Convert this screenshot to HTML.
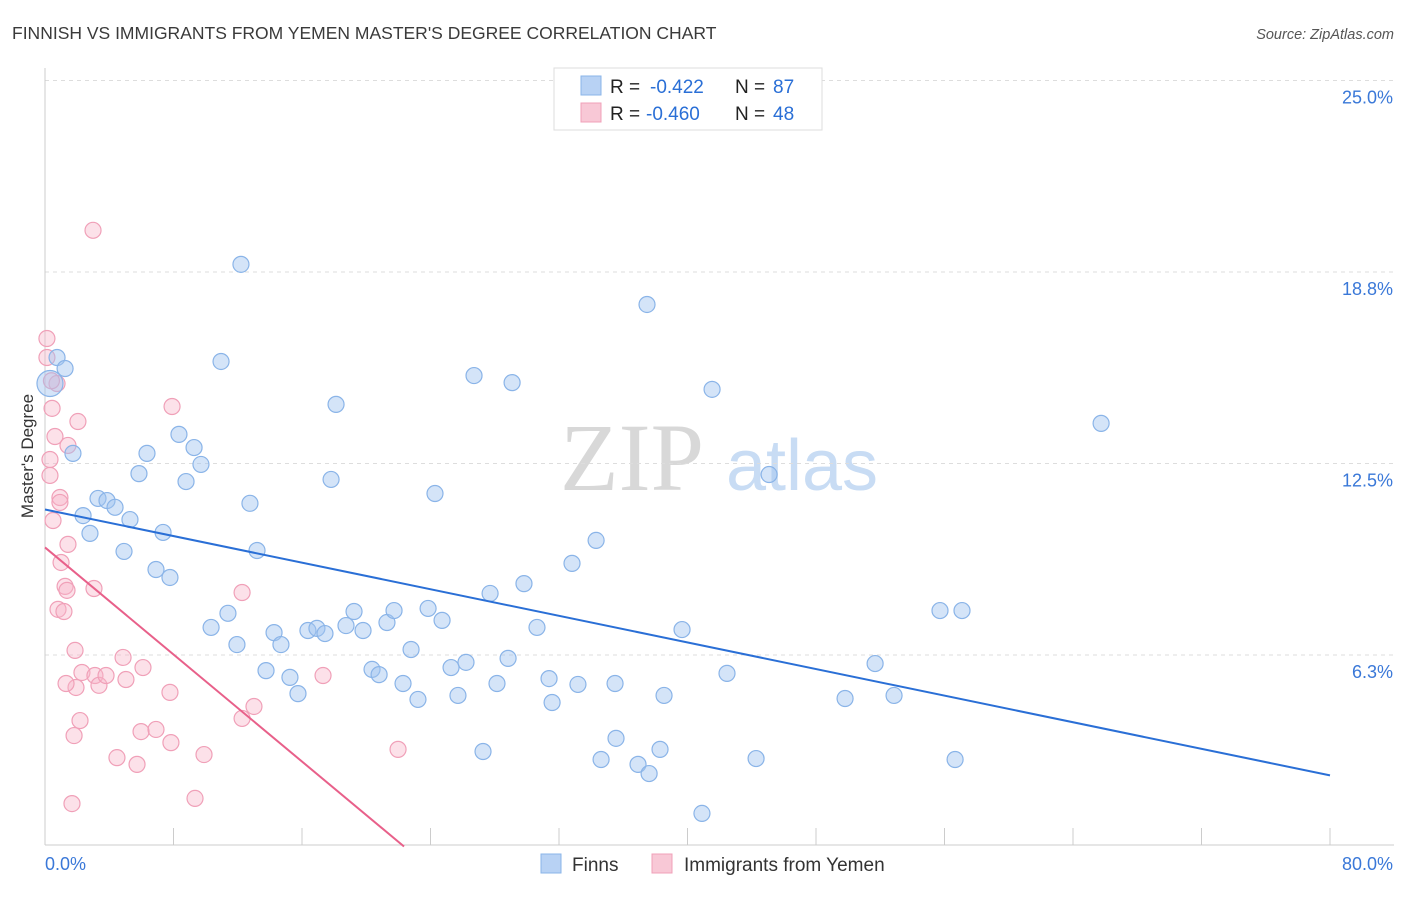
<!DOCTYPE html>
<html><head><meta charset="utf-8"><style>
body{margin:0;background:#fff;font-family:"Liberation Sans",sans-serif}
svg text{font-family:"Liberation Sans",sans-serif}
</style></head><body>
<svg id="chart" width="1406" height="892" viewBox="0 0 1406 892" xmlns="http://www.w3.org/2000/svg">
<text x="12" y="39" font-size="17.5" fill="#3a3a3a">FINNISH VS IMMIGRANTS FROM YEMEN MASTER'S DEGREE CORRELATION CHART</text>
<text x="1394" y="39" font-size="14.5" fill="#555" font-style="italic" text-anchor="end">Source: ZipAtlas.com</text>
<g>
<text x="632" y="490" font-size="96" fill="#d8d8d8" font-family="Liberation Serif" text-anchor="middle" style="font-family:'Liberation Serif',serif">ZIP</text>
<text x="802" y="490" font-size="72" fill="#c8dcf4" text-anchor="middle">atlas</text>
</g>
<g id="grid"></g>
<g id="axes"></g>
<g id="marks"></g>
<text transform="translate(33,456) rotate(-90)" font-size="17" fill="#333" text-anchor="middle">Master's Degree</text>
<g>
<rect x="554" y="68" width="268" height="62" fill="#fff" stroke="#ddd"/>
<rect x="581" y="76" width="20" height="19" fill="#b8d2f4" stroke="#8ab4e8"/>
<text x="610" y="93" font-size="19" fill="#222">R = </text><text x="650" y="93" font-size="19" fill="#2a6fd6">-0.422</text>
<text x="735" y="93" font-size="19" fill="#222">N = </text><text x="773" y="93" font-size="19" fill="#2a6fd6">87</text>
<rect x="581" y="103" width="20" height="19" fill="#f8c8d6" stroke="#f0a0b8"/>
<text x="610" y="120" font-size="19" fill="#222">R = </text><text x="646" y="120" font-size="19" fill="#2a6fd6">-0.460</text>
<text x="735" y="120" font-size="19" fill="#222">N = </text><text x="773" y="120" font-size="19" fill="#2a6fd6">48</text>
</g>
<g>
<rect x="541" y="854" width="20" height="19" fill="#b8d2f4" stroke="#8ab4e8"/>
<text x="572" y="871" font-size="19" fill="#333">Finns</text>
<rect x="652" y="854" width="20" height="19" fill="#f8c8d6" stroke="#f0a0b8"/>
<text x="684" y="871" font-size="19" fill="#333">Immigrants from Yemen</text>
</g>
</svg>
<script>
const yTicks=[6.25,12.5,18.75,25];
const yTickLabels=["6.3%","12.5%","18.8%","25.0%"];
const xTickCount=10;
const finnsX=[0.75,1.25,0.31,1.74,2.37,2.80,3.30,3.86,4.36,5.29,4.92,5.85,6.35,6.91,7.35,7.78,8.34,8.78,9.28,9.71,10.96,12.20,12.76,13.20,10.34,11.39,11.95,13.76,14.26,14.69,15.25,15.75,16.37,16.93,17.43,18.12,17.81,18.74,19.24,19.80,20.36,20.80,21.29,21.73,22.29,22.79,23.22,23.85,24.28,24.72,25.28,25.71,26.21,26.71,27.27,27.71,28.14,28.83,29.08,29.82,30.63,31.38,31.57,32.81,33.18,34.31,34.62,35.49,35.55,36.92,37.48,37.61,38.29,38.54,39.66,40.90,41.53,42.46,44.27,45.08,49.81,51.68,52.86,55.72,56.66,57.09,65.75];
const finnsY=[15.96,15.60,15.11,12.83,10.80,10.22,11.36,11.29,11.07,10.67,9.63,12.17,12.83,9.04,10.25,8.78,13.45,11.91,13.02,12.47,15.83,19.00,11.20,9.66,7.15,7.61,6.59,5.74,6.98,6.59,5.52,4.99,7.05,7.12,6.95,14.43,11.98,7.21,7.67,7.05,5.78,5.61,7.31,7.70,5.32,6.43,4.80,7.77,11.52,7.38,5.84,4.93,6.01,15.37,3.10,8.26,5.32,6.14,15.14,8.58,7.15,5.48,4.70,9.24,5.29,9.99,2.84,5.32,3.53,2.68,17.69,2.38,3.17,4.93,7.08,1.08,14.92,5.65,2.87,12.14,4.83,5.97,4.93,7.70,2.84,7.70,13.81];
const yemenX=[0.12,0.12,0.44,0.75,0.62,0.31,0.31,0.50,0.93,0.93,1.43,1.43,1.00,2.05,0.81,1.18,1.25,1.37,1.68,1.81,1.87,1.93,2.18,2.30,1.31,2.99,3.05,3.11,3.36,3.80,4.48,5.04,4.86,5.73,5.98,6.10,6.91,7.91,7.78,7.84,9.34,9.90,12.27,12.27,13.01,17.31,21.98,0.40];
const yemenY=[16.58,15.96,14.30,15.11,13.38,12.63,12.11,10.64,11.39,11.23,13.09,9.86,9.27,13.87,7.74,7.67,8.49,8.36,1.40,3.62,6.40,5.19,4.11,5.68,5.32,20.11,8.42,5.58,5.26,5.58,2.90,5.45,6.17,2.68,3.75,5.84,3.82,14.36,5.03,3.39,1.57,3.00,8.29,4.18,4.57,5.58,3.17,15.2];
const finnsTrend=[[0,11.0],[80,2.32]];
const yemenTrend=[[0,9.76],[22.35,0]];
const NS="http://www.w3.org/2000/svg";
const X0=45,X1=1330,Y0=846.5,YPer=30.64;
const sx=v=>X0+(v/80)*(X1-X0);
const sy=v=>Y0-v*YPer;
function mk(tag,attrs,parent){const e=document.createElementNS(NS,tag);for(const k in attrs)e.setAttribute(k,attrs[k]);parent.appendChild(e);return e;}
const grid=document.getElementById('grid'),axes=document.getElementById('axes'),marks=document.getElementById('marks');
yTicks.forEach((t,i)=>{
 const l=mk('line',{x1:X0,x2:1394,y1:sy(t),y2:sy(t),stroke:'#ddd','stroke-dasharray':'4,4'},grid);
 
 
 const tx=mk('text',{x:1393,y:sy(t)+23,'font-size':18,fill:'#3a78d8','text-anchor':'end'},axes);
 tx.textContent=yTickLabels[i];
 
 
});
const ax=mk('line',{x1:X0,x2:1394,y1:845,y2:845,stroke:'#ccc'},axes);


const ay=mk('line',{x1:X0,x2:X0,y1:68,y2:845,stroke:'#ccc'},axes);


for(let i=1;i<=xTickCount;i++){
 const t=mk('line',{x1:sx(i*8),x2:sx(i*8),y1:828,y2:845,stroke:'#ccc'},axes);
 
 
}
const xl=mk('text',{x:45,y:870,'font-size':18,fill:'#3a78d8'},axes);xl.textContent='0.0%';


const xr=mk('text',{x:1393,y:870,'font-size':18,fill:'#3a78d8','text-anchor':'end'},axes);xr.textContent='80.0%';


function pts(xs,ys,fill,stroke,name){xs.forEach((x,i)=>{
 const c=mk('circle',{cx:sx(x),cy:sy(ys[i]),r:(name==='finns-point'&&i===2)?13:8,fill:fill,stroke:stroke,'stroke-width':1.2},marks);
 
 
});}
pts(yemenX,yemenY,'rgba(248,180,200,0.4)','#f0a0b8','yemen-point');
pts(finnsX,finnsY,'rgba(160,196,240,0.45)','#8ab4e8','finns-point');
const tb=mk('line',{x1:sx(finnsTrend[0][0]),y1:sy(finnsTrend[0][1]),x2:sx(finnsTrend[1][0]),y2:sy(finnsTrend[1][1]),stroke:'#2a6fd6','stroke-width':2},marks);


const tp=mk('line',{x1:sx(yemenTrend[0][0]),y1:sy(yemenTrend[0][1]),x2:sx(yemenTrend[1][0]),y2:sy(yemenTrend[1][1]),stroke:'#e8608a','stroke-width':2},marks);


</script>
</body></html>
